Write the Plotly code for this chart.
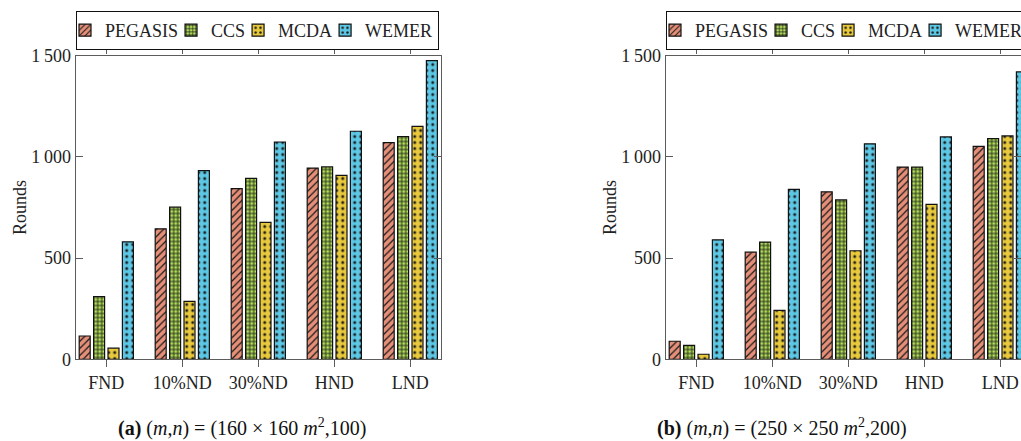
import plotly.graph_objects as go

# Network-lifetime milestones (rounds) for four routing protocols
categories = ["FND", "10%ND", "30%ND", "HND", "LND"]
protocols = ["PEGASIS", "CCS", "MCDA", "WEMER"]

# (a) 160 x 160 m^2, 100 nodes
rounds_a = {
    "PEGASIS": [115, 644, 843, 944, 1070],
    "CCS": [310, 751, 893, 950, 1100],
    "MCDA": [55, 286, 676, 908, 1150],
    "WEMER": [580, 932, 1073, 1126, 1475],
}
# (b) 250 x 250 m^2, 200 nodes
rounds_b = {
    "PEGASIS": [89, 529, 827, 949, 1051],
    "CCS": [69, 579, 787, 949, 1090],
    "MCDA": [25, 242, 536, 765, 1103],
    "WEMER": [590, 839, 1064, 1098, 1419],
}

y_tickvals = [0, 500, 1000, 1500]
y_ticktext = ["0", "500", "1\u2009000", "1\u2009500"]

captions = [
    "<b>(a)</b> (<i>m</i>,<i>n</i>) = (160 × 160 <i>m</i><sup>2</sup>,100)",
    "<b>(b)</b> (<i>m</i>,<i>n</i>) = (250 × 250 <i>m</i><sup>2</sup>,200)",
]

fill = {"PEGASIS": "#E58F78", "CCS": "#B3E05A", "MCDA": "#E9C93C", "WEMER": "#5CC8E6"}
pattern = {
    "PEGASIS": dict(shape="/", size=5, solidity=0.25),
    "CCS": dict(shape="+", size=4, solidity=0.4),
    "MCDA": dict(shape=".", size=6, solidity=0.2),
    "WEMER": dict(shape=".", size=6, solidity=0.2),
}

W, H = 1021, 441
FONT = "Liberation Serif"
AXIS_GREY = "#5c5c5c"

fig = go.Figure()

for panel, (data, xa, ya, lg) in enumerate([
    (rounds_a, "x", "y", "legend"),
    (rounds_b, "x2", "y2", "legend2"),
]):
    for p in protocols:
        fig.add_trace(go.Bar(
            x=categories, y=data[p], name=p,
            xaxis=xa, yaxis=ya, legend=lg,
            marker=dict(
                color=fill[p],
                line=dict(color="#111111", width=1.2),
                pattern=dict(fgcolor="#1a1a1a", bgcolor=fill[p],
                             fillmode="replace", **pattern[p]),
            ),
        ))

# plot-area geometry in pixels
y_bot_px, y_top_px = 359.3, 55.5
ydom = [(H - y_bot_px) / H, (H - y_top_px) / H]
px_per_cat = 76.0


def xaxis_style(x0_px, x1_px, first_tick_px):
    lo = -(first_tick_px - x0_px) / px_per_cat
    hi = (x1_px - first_tick_px) / px_per_cat
    return dict(
        domain=[x0_px / W, min(x1_px / W, 1.0)],
        range=[lo, hi],
        type="category", automargin=False,
        showline=True, linecolor=AXIS_GREY, linewidth=1.3, mirror="ticks",
        ticks="outside", ticklen=7, tickcolor=AXIS_GREY, tickwidth=1,
        showgrid=False, zeroline=False,
        tickfont=dict(family=FONT, size=18, color="#222"),
        fixedrange=True,
    )


def yaxis_style(anchor):
    return dict(
        domain=ydom, range=[0, 1500], anchor=anchor, automargin=False,
        tickvals=y_tickvals, ticktext=y_ticktext,
        showline=True, linecolor=AXIS_GREY, linewidth=1.3, mirror="ticks",
        ticks="inside", ticklen=7, tickcolor=AXIS_GREY, tickwidth=1,
        showgrid=False, zeroline=False,
        tickfont=dict(family=FONT, size=18, color="#222"),
        title=dict(text="Rounds", font=dict(family=FONT, size=18, color="#222"),
                   standoff=0),
        fixedrange=True,
    )


legend_common = dict(
    orientation="h", xanchor="left", yanchor="top",
    y=1 - 11 / H, bgcolor="white", bordercolor="#111", borderwidth=1,
    font=dict(family=FONT, size=18, color="#222"),
    itemwidth=30, tracegroupgap=0, indentation=-12,
)

fig.update_layout(
    width=W, height=H,
    margin=dict(l=0, r=0, t=0, b=0, autoexpand=False),
    font=dict(family=FONT, size=18, color="#222"),
    paper_bgcolor="white", plot_bgcolor="white",
    barmode="group", bargap=0.242, bargroupgap=0.236,
    xaxis=dict(anchor="y", **xaxis_style(75.7, 441.0, 106.3)),
    yaxis=yaxis_style("x"),
    xaxis2=dict(anchor="y2", **xaxis_style(665.7, 1021.0, 696.3)),
    yaxis2=yaxis_style("x2"),
    legend=dict(x=76 / W, **legend_common),
    legend2=dict(x=666 / W, **legend_common),
    showlegend=True,
)

for i, (text, cx) in enumerate(zip(captions, [242, 782])):
    fig.add_annotation(
        text=text, xref="paper", yref="paper",
        x=cx / W, y=(H - 427) / H, xanchor="center", yanchor="middle",
        showarrow=False, font=dict(family=FONT, size=20, color="#111"),
    )

fig.write_html("out.html")
